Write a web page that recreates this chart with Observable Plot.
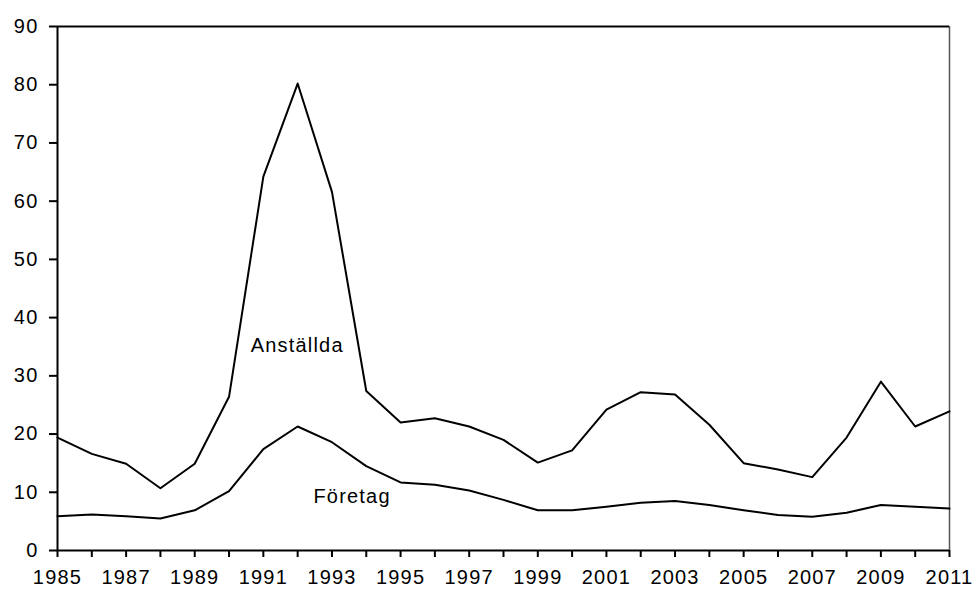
<!DOCTYPE html>
<html>
<head>
<meta charset="utf-8">
<script src="https://cdn.jsdelivr.net/npm/d3@7"></script>
<script src="https://cdn.jsdelivr.net/npm/@observablehq/plot@0.6"></script>
<style>
  html, body { margin: 0; padding: 0; background: #fff; }
  #chart svg { display: block; }
  #chart svg text { letter-spacing: 1.2px; }
</style>
</head>
<body>
<div id="chart"></div>
<script>
const years = d3.range(1985, 2012);
const anstallda = [19.4, 16.6, 14.9, 10.7, 14.9, 26.4, 64.2, 80.2, 61.6, 27.4, 22.0, 22.7, 21.3, 19.0, 15.1, 17.2, 24.2, 27.2, 26.8, 21.6, 15.0, 13.9, 12.6, 19.4, 29.0, 21.3, 23.9];
const foretag   = [5.9, 6.2, 5.9, 5.5, 6.9, 10.2, 17.4, 21.3, 18.6, 14.5, 11.7, 11.3, 10.3, 8.7, 6.9, 6.9, 7.5, 8.2, 8.5, 7.8, 6.9, 6.1, 5.8, 6.5, 7.8, 7.5, 7.2];
const yTicks = [0, 10, 20, 30, 40, 50, 60, 70, 80, 90];
const xLabelYears = d3.range(1985, 2012, 2);
const seriesLabels = [
  {name: "Anställda", year: 1990.63, value: 35.2},
  {name: "Företag", year: 1992.46, value: 9.2}
];

const rowsA = years.map((y, i) => ({year: y, value: anstallda[i], series: "Anställda"}));
const rowsF = years.map((y, i) => ({year: y, value: foretag[i], series: "Företag"}));

const chart = Plot.plot({
  width: 973,
  height: 594,
  marginLeft: 57,
  marginRight: 24,
  marginTop: 26,
  marginBottom: 44,
  style: {fontFamily: "'Liberation Sans', Arial, sans-serif", fontSize: "20px", color: "#000", background: "#fff"},
  x: {domain: [1985, 2011]},
  y: {domain: [0, 90]},
  marks: [
    Plot.axisY(yTicks, {tickSize: 8, tickPadding: 11, tickFormat: d => String(d), label: null, strokeWidth: 2, fontSize: 20}),
    Plot.axisX(years, {tickSize: 7, tickFormat: () => "", label: null, strokeWidth: 2}),
    Plot.axisX(xLabelYears, {tickSize: 0, tickPadding: 19, tickFormat: d => String(d), label: null, fontSize: 20}),
    Plot.ruleX([2011], {stroke: "#555", strokeWidth: 1.5}),
    Plot.ruleY([90], {stroke: "#000", strokeWidth: 2}),
    Plot.ruleY([0], {stroke: "#000", strokeWidth: 2}),
    Plot.ruleX([1985], {stroke: "#000", strokeWidth: 2}),
    Plot.line(rowsA, {x: "year", y: "value", stroke: "#000", strokeWidth: 2}),
    Plot.line(rowsF, {x: "year", y: "value", stroke: "#000", strokeWidth: 2}),
    Plot.text(seriesLabels, {x: "year", y: "value", text: "name", textAnchor: "start", lineAnchor: "middle", fontSize: 20, fill: "#000"})
  ]
});
document.getElementById("chart").appendChild(chart);
</script>
</body>
</html>
